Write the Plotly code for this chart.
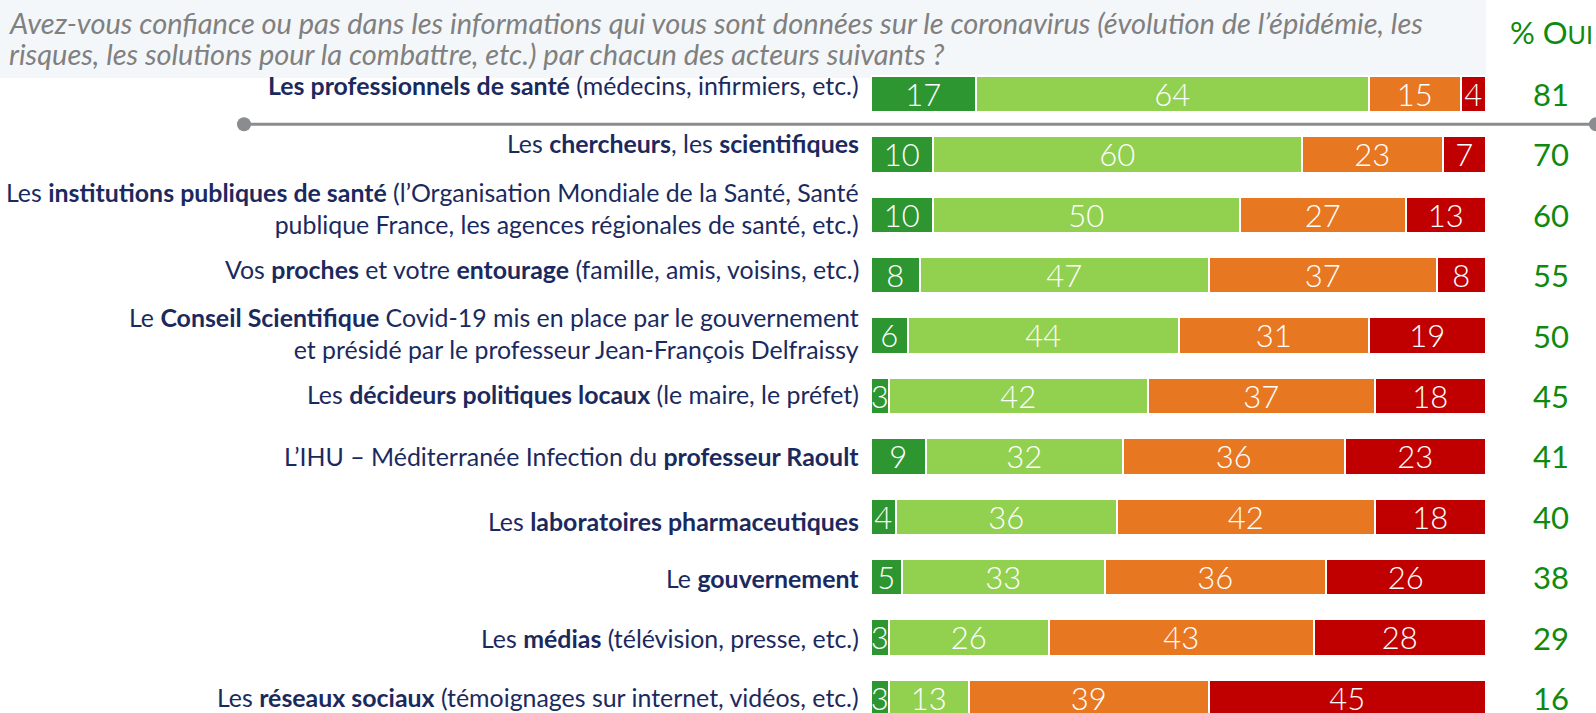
import plotly.graph_objects as go

labels = [
    "<b>Les professionnels de santé</b> (médecins, infirmiers, etc.)",
    "Les <b>chercheurs</b>, les <b>scientifiques</b>",
    "Les <b>institutions publiques de santé</b> (l’Organisation Mondiale de la Santé, Santé<br>publique France, les agences régionales de santé, etc.)",
    "Vos <b>proches</b> et votre <b>entourage</b> (famille, amis, voisins, etc.)",
    "Le <b>Conseil Scientifique</b> Covid-19 mis en place par le gouvernement<br>et présidé par le professeur Jean-François Delfraissy",
    "Les <b>décideurs politiques locaux</b> (le maire, le préfet)",
    "L’IHU – Méditerranée Infection du <b>professeur Raoult</b>",
    "Les <b>laboratoires pharmaceutiques</b>",
    "Le <b>gouvernement</b>",
    "Les <b>médias</b> (télévision, presse, etc.)",
    "Les <b>réseaux sociaux</b> (témoignages sur internet, vidéos, etc.)",
]
tout_a_fait = [17, 10, 10, 8, 6, 3, 9, 4, 5, 3, 3]
plutot_oui = [64, 60, 50, 47, 44, 42, 32, 36, 33, 26, 13]
plutot_pas = [15, 23, 27, 37, 31, 37, 36, 42, 36, 43, 39]
pas_du_tout = [4, 7, 13, 8, 19, 18, 23, 18, 26, 28, 45]
pct_oui = [81, 70, 60, 55, 50, 45, 41, 40, 38, 29, 16]

title_lines = [
    "Avez-vous confiance ou pas dans les informations qui vous sont données sur le coronavirus (évolution de l’épidémie, les",
    "risques, les solutions pour la combattre, etc.) par chacun des acteurs suivants ?",
]

W, H = 1596, 713
FONT = "Lato, 'Noto Sans', sans-serif"
ypos = list(range(len(labels)))
# vertical nudge (px) of each row label, as placed in the original slide
label_nudge = [9, 11, 6.5, 6, 3, 2, 0, -4, -1, 0, 1]

series = [
    (tout_a_fait, "#2e9631"),
    (plutot_oui, "#92d050"),
    (plutot_pas, "#e87722"),
    (pas_du_tout, "#c00000"),
]

fig = go.Figure()
for vals, col in series:
    fig.add_trace(go.Bar(
        y=ypos, x=vals, orientation="h", width=0.6,
        marker=dict(color=col, line=dict(color="white", width=2.5)),
        text=[str(v) for v in vals], textposition="inside", insidetextanchor="middle",
        textangle=0, constraintext="none", cliponaxis=False,
        textfont=dict(color="white", size=31, family=FONT, weight=300),
        hoverinfo="skip", showlegend=False,
    ))

ann = []
for i, lab in enumerate(labels):
    ann.append(dict(x=0, y=i, xref="x", yref="y", xanchor="right", yanchor="middle",
                    xshift=-10, yshift=label_nudge[i], text=lab, showarrow=False, align="right",
                    font=dict(color="#1b2a5e", size=24.9, family=FONT)))
    ann.append(dict(x=1551 / W, y=i, xref="paper", yref="y", xanchor="center", yanchor="middle",
                    text=str(pct_oui[i]), showarrow=False,
                    font=dict(color="#0f8a0f", size=31, family=FONT)))

for k, (line, yc) in enumerate(zip(title_lines, [23, 54])):
    ann.append(dict(x=7 / W, y=1 - yc / H, xref="paper", yref="paper", xanchor="left", yanchor="middle",
                    text="<i>" + line + "</i>", showarrow=False, align="left",
                    font=dict(color="#808080", size=29, family=FONT)))
ann.append(dict(x=1508 / W, y=1 - 32 / H, xref="paper", yref="paper", xanchor="left", yanchor="middle",
                text="% O<span style='font-size:25px'>UI</span>", showarrow=False,
                font=dict(color="#0f8a0f", size=31, family=FONT)))

shapes = [
    dict(type="rect", xref="paper", yref="paper", x0=0, x1=1486 / W, y0=1 - 78 / H, y1=1,
         fillcolor="#f4f7f9", line=dict(width=0), layer="below"),
    dict(type="line", xref="paper", yref="y", x0=244 / W, x1=1, y0=0.5, y1=0.5,
         line=dict(color="#8a8c8f", width=3)),
    dict(type="circle", xref="paper", yref="y", xsizemode="pixel", ysizemode="pixel",
         xanchor=244 / W, yanchor=0.5, x0=-7, x1=7, y0=-7, y1=7,
         fillcolor="#8a8c8f", line=dict(width=0)),
    dict(type="circle", xref="paper", yref="y", xsizemode="pixel", ysizemode="pixel",
         xanchor=1, yanchor=0.5, x0=-7, x1=7, y0=-7, y1=7,
         fillcolor="#8a8c8f", line=dict(width=0)),
]

top_c, step = 94, 60.4
fig.update_layout(
    width=W, height=H, margin=dict(l=0, r=0, t=0, b=0),
    paper_bgcolor="white", plot_bgcolor="rgba(0,0,0,0)",
    barmode="stack", bargap=0,
    xaxis=dict(domain=[871 / W, 1486 / W], range=[0, 100], visible=False, fixedrange=True),
    yaxis=dict(range=[(H - top_c) / step, -top_c / step], visible=False, fixedrange=True),
    annotations=ann, shapes=shapes,
)

fig.write_html("out.html", config={"displayModeBar": False},
               post_script="document.body.style.margin='0';document.body.style.overflow='hidden';")
